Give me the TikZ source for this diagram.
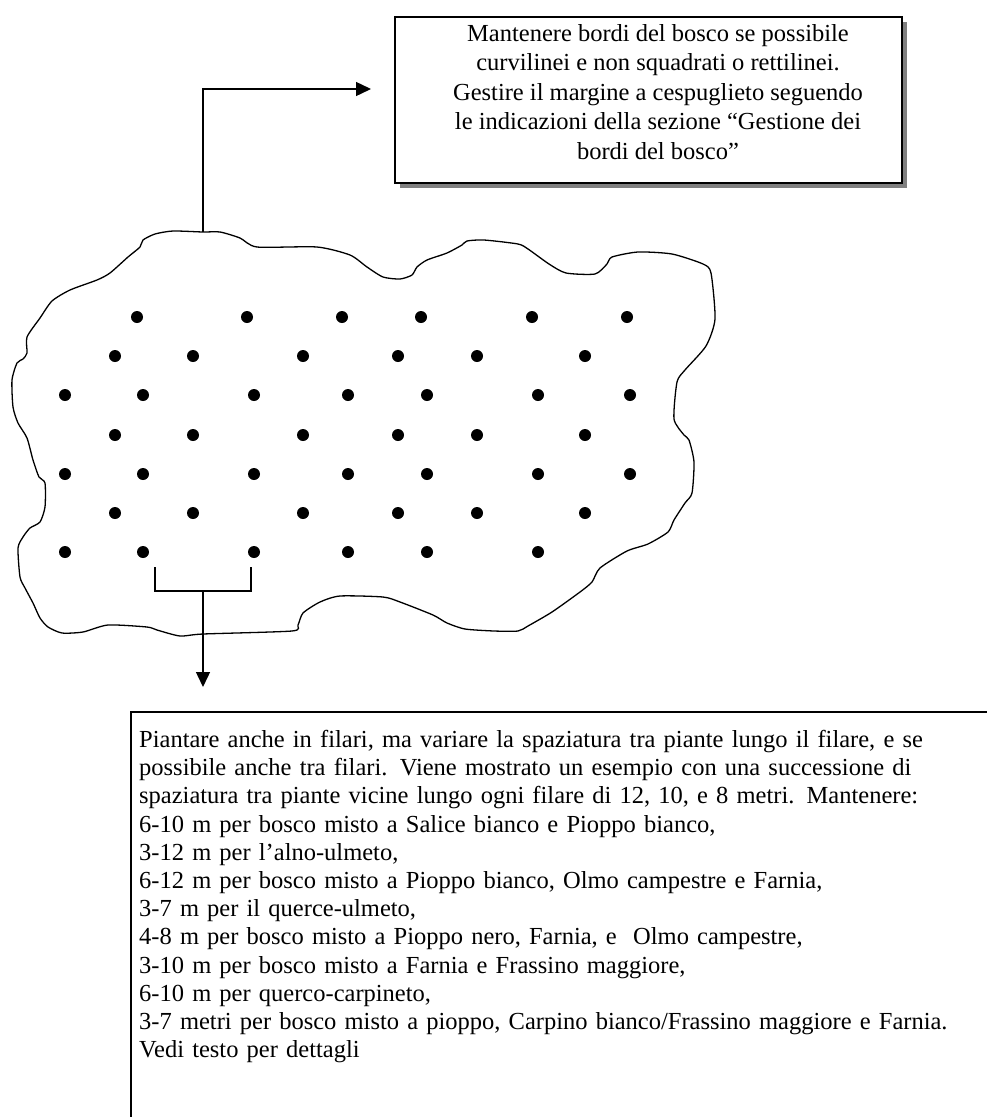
\documentclass[tikz,border=0pt]{standalone}
\usepackage{fontspec}
\setmainfont{Liberation Serif}
\usetikzlibrary{arrows.meta, shadows, positioning, fit}

\begin{document}
\begin{tikzpicture}[x=1pt, y=-1pt,
        note/.style={draw, line width=1.6pt, fill=white, inner sep=0pt,
            drop shadow={opacity=1, fill=gray, shadow xshift=5pt, shadow yshift=-5pt}},
        notetext/.style={align=center, inner sep=0pt, font=\fontsize{24.5}{29.5}\selectfont},
        info/.style={align=left, inner sep=0pt, text width=840pt,
            font=\fontsize{24.5}{28.2}\selectfont},
        tree/.style={circle, fill, inner sep=0pt, minimum size=12pt},
        rim/.style={line width=1.3pt, line join=round},
        edge/.style={line width=1.4pt},
        link/.style={edge, -{Triangle[length=15pt, width=14pt]}}
    ]
        \useasboundingbox (0,0) rectangle (987,1117);
        \clip (0,0) rectangle (987,1117);

        % wood edge
        \draw[rim] plot[smooth cycle, tension=0.4] coordinates {
            (143,240) (155,234) (173,231) (203,232) (220,232) (240,238) (257,247)
            (317,247) (350,255) (367,267) (383,277) (400,279) (412,275) (417,267)
            (427,260) (447,253) (462,245) (467,241) (484,240) (518,244) (528,249)
            (549,264) (566,273) (595,274) (607,264) (612,257) (638,252) (672,254)
            (703,264) (711,273) (715,319) (706,346) (685,370) (677,382) (674,419)
            (684,435) (689,440) (694,462) (692,493) (685,503) (674,520) (668,532)
            (648,544) (627,551) (600,568) (592,582) (580,592) (552,612) (528,626)
            (518,631) (494,631) (465,629) (447,623) (433,615) (400,602) (383,597)
            (340,596) (320,602) (303,613) (298,625) (292,631) (203,634) (180,636)
            (157,630) (147,627) (108,625) (83,632) (62,633) (48,627) (40,618)
            (33,603) (25,588) (20,577) (18,548) (23,537) (30,528) (40,522)
            (45,507) (45,483) (39,477) (33,460) (27,438) (18,423) (13,407)
            (12,380) (17,363) (23,359) (27,353) (27,337) (40,318) (52,301)
            (70,290) (97,280) (110,273) (128,257) (140,247)};

        % trees in rows
        \foreach \yy/\xlist in {
                317/{137,247,342,421,532,627},
                356/{115,193,303,398,477,585},
                395/{65,143,254,348,427,538,630},
                435/{115,193,303,398,477,585},
                474/{65,143,254,348,427,538,630},
                513/{115,193,303,398,477,585},
                552/{65,143,254,348,427,538}}
            \foreach \xx in \xlist
                \node[tree] (t-\yy-\xx) at (\xx,\yy) {};

        % boxes
        \coordinate (nw) at (395,17);
        \coordinate (se) at (902,183);
        \node[note, fit=(nw)(se)] (edgebox) {};
        \node[notetext] (edgetext) at (658,92)
            {Mantenere bordi del bosco se possibile\\
             curvilinei e non squadrati o rettilinei.\\
             Gestire il margine a cespuglieto seguendo\\
             le indicazioni della sezione “Gestione dei\\
             bordi del bosco”};

        \draw[edge] (131,1140) |- (1000,712);
        \node[info, anchor=north west] (rowbox) at (139,730)
            {Piantare anche in filari, ma variare la spaziatura tra piante lungo il filare, e se\\
             possibile anche tra filari. Viene mostrato un esempio con una successione di\\
             spaziatura tra piante vicine lungo ogni filare di 12, 10, e 8 metri. Mantenere:\\
             6-10 m per bosco misto a Salice bianco e Pioppo bianco,\\
             3-12 m per l’alno-ulmeto,\\
             6-12 m per bosco misto a Pioppo bianco, Olmo campestre e Farnia,\\
             3-7 m per il querce-ulmeto,\\
             4-8 m per bosco misto a Pioppo nero, Farnia, e\ \ Olmo campestre,\\
             3-10 m per bosco misto a Farnia e Frassino maggiore,\\
             6-10 m per querco-carpineto,\\
             3-7 metri per bosco misto a pioppo, Carpino bianco/Frassino maggiore e Farnia.\\
             Vedi testo per dettagli};

        % connectors
        \coordinate (rimtop) at (203,232);
        \coordinate (tip) at (371,89);
        \draw[link] (rimtop) |- (tip);

        \coordinate (pairL) at (155,567);
        \coordinate (pairR) at (251,567);
        \coordinate (pairM) at (203,591);
        \coordinate (down) at (203,687);
        \draw[edge] (pairL) |- (pairM) -| (pairR);
        \draw[link] (pairM) -- (down);
    \end{tikzpicture}
\end{document}
